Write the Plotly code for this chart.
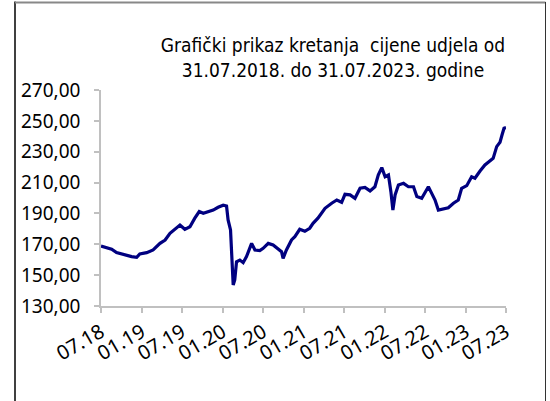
import plotly.graph_objects as go

dates = ["2018-07-31", "2018-08-25", "2018-09-17", "2018-10-09", "2018-11-01", "2018-11-23",
         "2018-12-16", "2019-01-08", "2019-01-22", "2019-02-22", "2019-03-23", "2019-04-23",
         "2019-05-16", "2019-06-07", "2019-06-30", "2019-07-22", "2019-08-13", "2019-09-05",
         "2019-09-27", "2019-10-17", "2019-11-04", "2019-11-26", "2019-12-19", "2020-01-10",
         "2020-02-02", "2020-02-17", "2020-02-24", "2020-03-06", "2020-03-12", "2020-03-18",
         "2020-03-25", "2020-04-02", "2020-04-17", "2020-05-02", "2020-05-17", "2020-06-09",
         "2020-06-24", "2020-07-16", "2020-07-31", "2020-08-23", "2020-09-14", "2020-10-07",
         "2020-10-22", "2020-10-29", "2020-11-13", "2020-12-06", "2020-12-21", "2021-01-12",
         "2021-02-04", "2021-02-26", "2021-03-13", "2021-04-04", "2021-05-06", "2021-06-05",
         "2021-06-28", "2021-07-20", "2021-08-04", "2021-08-27", "2021-09-18", "2021-10-11",
         "2021-11-02", "2021-11-25", "2021-12-17", "2022-01-01", "2022-01-17", "2022-02-01",
         "2022-02-16", "2022-02-27", "2022-03-08", "2022-03-18", "2022-04-02", "2022-04-25",
         "2022-05-17", "2022-06-09", "2022-06-24", "2022-07-16", "2022-08-15", "2022-08-30",
         "2022-09-14", "2022-09-29", "2022-10-21", "2022-11-13", "2022-12-06", "2022-12-28",
         "2023-01-12", "2023-02-04", "2023-02-26", "2023-03-13", "2023-04-05", "2023-04-27",
         "2023-05-19", "2023-06-03", "2023-06-19", "2023-07-04", "2023-07-13", "2023-07-22",
         "2023-07-31"]
prices = [168.9, 168.0, 166.8, 164.6, 163.7, 162.4,
          162.0, 161.6, 163.7, 164.6, 166.3, 170.6,
          172.8, 177.1, 179.7, 182.5, 179.7, 181.4,
          186.9, 191.2, 190.1, 191.2, 192.2, 194.0,
          195.3, 194.8, 185.8, 179.3, 162.0, 143.6,
          146.9, 158.7, 159.8, 158.1, 162.0, 170.6,
          166.3, 165.9, 167.4, 170.6, 169.6, 166.8,
          165.2, 160.9, 166.3, 172.8, 174.9, 179.7,
          178.4, 180.4, 183.6, 186.9, 193.3, 196.6,
          198.7, 197.2, 202.4, 202.0, 199.8, 206.3,
          206.8, 204.6, 207.3, 214.9, 219.7, 213.8,
          214.9, 204.1, 192.2, 202.0, 208.4, 209.5,
          207.3, 207.3, 200.9, 199.8, 207.3, 203.0,
          198.7, 192.2, 192.9, 193.7, 196.6, 198.7,
          206.3, 208.0, 213.8, 212.8, 217.5, 221.4,
          224.0, 225.7, 233.3, 236.1, 240.8, 245.2,
          245.6]

tick_dates = ["2018-07-31", "2019-01-31", "2019-07-31", "2020-01-31", "2020-07-31", "2021-01-31",
              "2021-07-31", "2022-01-31", "2022-07-31", "2023-01-31", "2023-07-31"]
tick_labels = ["07.18", "01.19", "07.19", "01.20", "07.20", "01.21",
               "07.21", "01.22", "07.22", "01.23", "07.23"]
y_ticks = [130, 150, 170, 190, 210, 230, 250, 270]

title_text = "Grafički prikaz kretanja  cijene udjela od<br>31.07.2018. do 31.07.2023. godine"

fig = go.Figure()
fig.add_trace(go.Scatter(x=dates, y=prices, mode="lines",
                         line=dict(color="#000080", width=3.2)))

L, R, T, B = 101, 44, 90, 95
W, H = 550, 401
pw, ph = W - L - R, H - T - B

def px(x):
    return (x - L) / pw

def py(y):
    return (H - B - y) / ph

fig.update_layout(
    width=W, height=H,
    margin=dict(l=L, r=R, t=T, b=B),
    paper_bgcolor="white", plot_bgcolor="white",
    separators=", ",
    showlegend=False,
    title=dict(text=title_text, x=333 / W, xref="container", xanchor="center",
               y=1 - 52 / H, yref="container", yanchor="middle",
               font=dict(family="DejaVu Sans Condensed", size=19, color="#000")),
    xaxis=dict(range=["2018-07-31", "2023-07-31"], tickvals=tick_dates, ticktext=tick_labels,
               tickangle=-30, showgrid=False, zeroline=False,
               showline=True, linecolor="#c0c0c0", linewidth=1.5,
               ticks="outside", ticklen=5, tickcolor="#c0c0c0", tickwidth=1.5,
               tickfont=dict(family="Noto Sans", size=20, color="#000")),
    yaxis=dict(range=[130, 270], tickvals=y_ticks, tickformat=".2f",
               showgrid=False, zeroline=False,
               showline=True, linecolor="#c0c0c0", linewidth=1.5,
               ticks="outside", ticklen=5, tickcolor="#c0c0c0", tickwidth=1.5,
               ticklabelstandoff=10,
               tickfont=dict(family="Noto Sans", size=19, color="#000")),
    shapes=[
        dict(type="line", xref="paper", yref="paper", x0=px(15), x1=px(15), y0=py(1.5), y1=py(405),
             line=dict(color="#000", width=1.5)),
        dict(type="line", xref="paper", yref="paper", x0=px(15), x1=px(545.5), y0=py(2.5), y1=py(2.5),
             line=dict(color="#888", width=2)),
        dict(type="line", xref="paper", yref="paper", x0=px(545.5), x1=px(545.5), y0=py(2), y1=py(405),
             line=dict(color="#333", width=1)),
    ],
)

fig.write_html("out.html", config={"displayModeBar": False},
               post_script="document.body.style.margin='0';")
